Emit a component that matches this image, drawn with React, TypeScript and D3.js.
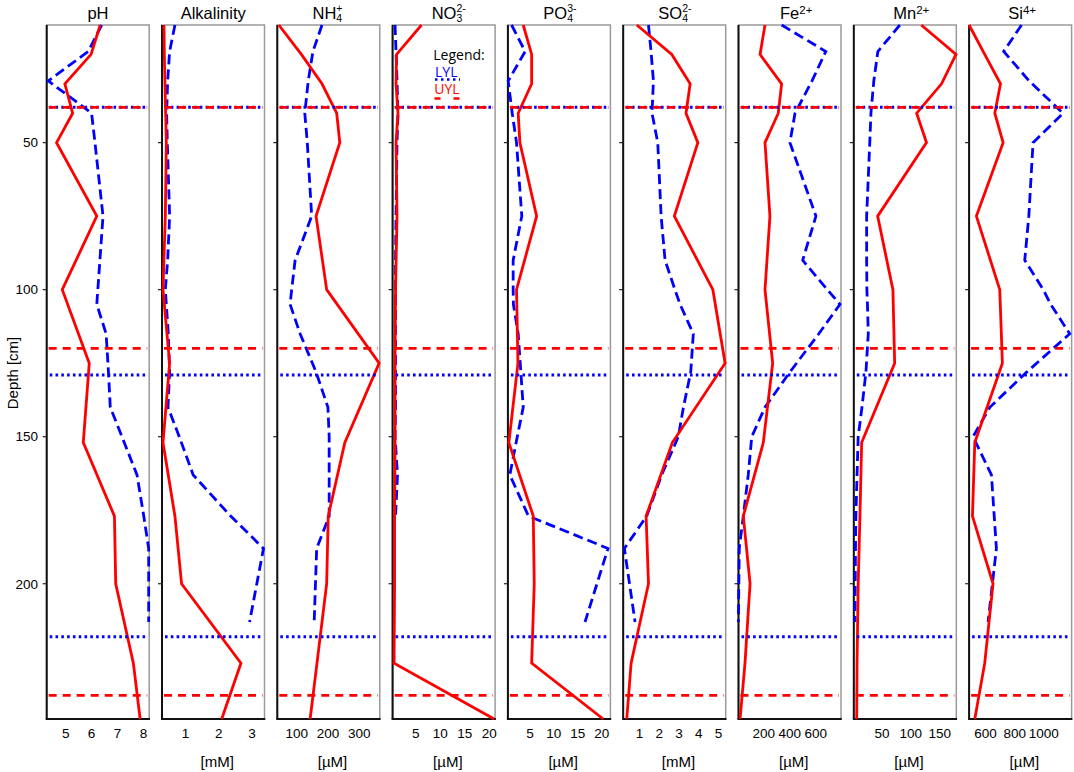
import React from "react";
import * as d3 from "d3";

// Sampling depths (cm)
const uylDepth = [10, 20, 30, 40, 50, 75, 100, 125, 152, 177, 200, 227, 246];
const lylDepth = [10, 19, 29, 40, 50, 75, 90, 100, 105, 115, 128, 140, 150, 163, 177, 188, 213];

// UYL (red, solid)
const uylPH = [6.33, 5.98, 4.97, 5.27, 4.65, 6.2, 4.87, 5.91, 5.68, 6.88, 6.93, 7.61, 7.87];
const uylAlk = [0.35, 0.36, 0.38, 0.4, 0.42, 0.39, 0.32, 0.52, 0.32, 0.68, 0.88, 2.67, 2.09];
const uylNH4 = [43, 115, 181, 228, 238, 162, 196, 364, 254, 201, 196, 165, 143];
const uylNO3 = [6.2, 1.1, 1.0, 1.4, 1.0, 1.2, 0.9, 0.8, 0.8, 0.7, 0.7, 0.6, 21.0];
const uylPO4 = [3.6, 5.36, 5.36, 2.55, 2.9, 6.4, 2.2, 2.5, 0.6, 5.7, 5.9, 5.36, 20.3];
const uylSO4 = [0.87, 2.64, 3.57, 3.36, 3.96, 2.77, 4.72, 5.34, 2.67, 1.34, 1.46, 0.58, 0.36];
const uylFe = [210, 172, 338, 312, 210, 248, 210, 269, 197, 43, 95, 56, 18];
const uylMn = [118, 178, 153, 110, 127, 42.6, 69, 72, 15, 12, 9, 7, 6.4];
const uylSi = [488, 595, 703, 664, 721, 538, 698, 716, 527, 511, 652, 595, 527];

// LYL (blue, dashed)
const lylPH = [6.39, 5.87, 4.33, 6.0, 6.13, 6.44, 6.32, 6.24, 6.2, 6.56, 6.65, 6.72, 7.17, 7.75, 8.01, 8.2, 8.2];
const lylAlk = [0.68, 0.52, 0.46, 0.43, 0.45, 0.52, 0.46, 0.39, 0.42, 0.48, 0.52, 0.47, 0.81, 1.23, 2.36, 3.35, 2.93];
const lylNH4 = [181, 152, 137, 126, 134, 148, 95, 84, 79, 111, 162, 200, 204, 204, 204, 164, 156];
const lylNO3 = [0.8, 1.0, 1.2, 1.4, 1.2, 1.0, 0.9, 0.9, 0.9, 0.9, 0.9, 0.9, 0.8, 1.3, 0.9, null, null];
const lylPO4 = [1.17, 4.0, 0.46, 1.3, 2.2, 3.3, 1.5, 1.5, 1.55, 2.55, 3.1, 3.6, 2.36, 0.8, 4.7, 21.3, 16.5];
const lylSO4 = [1.46, 1.59, 1.71, 1.64, 1.93, 2.1, 2.3, 2.8, 3.06, 3.73, 3.6, 3.23, 2.97, 2.13, 1.37, 0.24, 0.78];
const lylFe = [338, 678, 572, 441, 402, 602, 500, 690, 787, 624, 402, 210, 108, 81, 43, 12, 5];
const lylMn = [81, 43, 36, 31, 29, 23.6, 23.6, 24, 25, 26.4, 22.4, 15.5, 9, 7, 5, 4.3, 3.4];
const lylSi = [847, 725, 899, 1131, 926, 897, 869, 996, 1047, 1177, 883, 630, 515, 641, 660, 675, 618];

// Panel labels
const titleBase = ["pH", "Alkalinity", "NH", "NO", "PO", "SO", "Fe", "Mn", "Si"];
const titleSub = ["", "", "4", "3", "4", "4", "", "", ""];
const titleSup = ["", "", "+", "2-", "3-", "2-", "2+", "2+", "4+"];
const unitLabels = ["", "[mM]", "[µM]", "[µM]", "[µM]", "[mM]", "[µM]", "[µM]", "[µM]"];

const xDomains: [number, number][] = [
  [4.27, 8.22],
  [0.29, 3.38],
  [38, 366],
  [0.3, 21.2],
  [0.4, 21.8],
  [0.18, 5.37],
  [6, 795],
  [1.4, 178.5],
  [488, 1190],
];
const xTicks = [
  [5, 6, 7, 8],
  [1, 2, 3],
  [100, 200, 300],
  [5, 10, 15, 20],
  [5, 10, 15, 20],
  [1, 2, 3, 4, 5],
  [200, 400, 600],
  [50, 100, 150],
  [600, 800, 1000],
];

const uylBoundaries = [38, 120, 238];
const lylBoundaries = [38, 129, 218];
const depthDomain = [10, 246];
const depthTicks = [50, 100, 150, 200];

const uylSeries = [uylPH, uylAlk, uylNH4, uylNO3, uylPO4, uylSO4, uylFe, uylMn, uylSi];
const lylSeries = [lylPH, lylAlk, lylNH4, lylNO3, lylPO4, lylSO4, lylFe, lylMn, lylSi];

const RED = "#ff0000";
const BLUE = "#0000ff";
const FONT = "'Liberation Sans', Arial, Helvetica, sans-serif";

export default function App() {
  const W = 1074;
  const H = 772;
  const plotTop = 25;
  const plotBottom = 719;
  const firstLeft = 46.7;
  const step = 115.3;
  const panelW = 102.5;
  // x where the base part of a chemical title starts (null = centered)
  const titleStart: (number | null)[] = [null, null, 312.5, 431.7, 543.3, 658.3, 780, 893.3, 1008.3];

  const y = d3.scaleLinear().domain(depthDomain).range([plotTop, plotBottom]);

  return (
    <div style={{ position: "absolute", left: 0, top: 0 }}>
      <svg width={W} height={H} style={{ display: "block", background: "#fff" }} fontFamily={FONT}>
        {/* Depth axis label + ticks */}
        <text
          transform={`translate(17.5,373) rotate(-90)`}
          textAnchor="middle"
          fontSize={15}
          fill="#000"
        >
          Depth [cm]
        </text>
        {depthTicks.map((d) => (
          <text key={"dl" + d} x={38} y={y(d) + 4.8} textAnchor="end" fontSize={13.5} fill="#000">
            {d}
          </text>
        ))}

        {titleBase.map((name, i) => {
          const left = firstLeft + step * i;
          const right = left + panelW;
          const cx = left + panelW / 2;
          const x = d3.scaleLinear().domain(xDomains[i]).range([left, right]);
          const lineU = d3
            .line<number | null>()
            .defined((v) => v != null)
            .x((v) => x(v as number))
            .y((_, k) => y(uylDepth[k]));
          const lineL = d3
            .line<number | null>()
            .defined((v) => v != null)
            .x((v) => x(v as number))
            .y((_, k) => y(lylDepth[k]));
          const sup = titleSup[i];
          const sub = titleSub[i];
          const ts = titleStart[i];
          const supSize = sub ? 10.5 : 11.5;
          const supW = sup
            ? sup.split("").reduce((s, c) => s + (c === "+" ? 0.584 : c === "-" ? 0.333 : 0.556), 0) * supSize
            : 0;
          return (
            <g key={name}>
              {/* title */}
              {ts == null ? (
                <text x={cx} y={19} textAnchor="middle" fontSize={16.5} fill="#000">
                  {name}
                </text>
              ) : (
                <text x={ts} y={19} fontSize={16.5} fill="#000">
                  <tspan>{name}</tspan>
                  {sub ? (
                    <>
                      <tspan dy={-7} fontSize={supSize}>
                        {sup}
                      </tspan>
                      <tspan dx={-supW} dy={9.5} fontSize={supSize}>
                        {sub}
                      </tspan>
                    </>
                  ) : (
                    <tspan dy={-5.5} fontSize={supSize}>
                      {sup}
                    </tspan>
                  )}
                </text>
              )}

              {/* frame */}
              <rect
                x={left}
                y={plotTop}
                width={panelW}
                height={plotBottom - plotTop}
                fill="none"
                stroke="#9a9a9a"
                strokeWidth={1.5}
              />
              <line x1={left} x2={left} y1={plotTop} y2={plotBottom} stroke="#111" strokeWidth={2} />
              <line x1={left - 1} x2={right + 0.75} y1={plotBottom} y2={plotBottom} stroke="#111" strokeWidth={2} />

              {/* y ticks */}
              {depthTicks.map((d) => (
                <line key={"yt" + d} x1={left - 4} x2={left} y1={y(d)} y2={y(d)} stroke="#222" strokeWidth={1.2} />
              ))}

              {/* x tick labels */}
              {xTicks[i].map((t) => (
                <text key={"xt" + t} x={x(t)} y={738} textAnchor="middle" fontSize={13.5} fill="#000">
                  {t}
                </text>
              ))}
              {unitLabels[i] && (
                <text x={cx + 4} y={767} textAnchor="middle" fontSize={15} fill="#000">
                  {unitLabels[i]}
                </text>
              )}

              {/* data lines */}
              <path d={lineL(lylSeries[i] as (number | null)[]) || ""} fill="none" stroke={BLUE} strokeWidth={2.8} strokeDasharray="10,5" />
              <path d={lineU(uylSeries[i]) || ""} fill="none" stroke={RED} strokeWidth={2.8} strokeLinejoin="miter" />

              {/* boundaries */}
              {lylBoundaries.map((b) => (
                <line key={"lb" + b} x1={left + 3} x2={right - 3} y1={y(b)} y2={y(b)} stroke={BLUE} strokeWidth={3} strokeDasharray="2.6,3.2" />
              ))}
              {uylBoundaries.map((b) => (
                <line key={"ub" + b} x1={left + 2} x2={right - 2} y1={y(b)} y2={y(b)} stroke={RED} strokeWidth={2.8} strokeDasharray="8,6" />
              ))}
            </g>
          );
        })}

        {/* Legend in NO3 panel */}
        <g fontFamily="'Open Sans', 'Noto Sans', sans-serif">
          <text x={433.3} y={60} fontSize={14} fill="#000">
            Legend:
          </text>
          <text x={435} y={76.5} fontSize={14} fill={BLUE}>
            LYL
          </text>
          <line x1={435} x2={460} y1={79.5} y2={79.5} stroke={BLUE} strokeWidth={2.5} strokeDasharray="2.5,3.5" />
          <text x={434.3} y={94} fontSize={14} fill={RED}>
            UYL
          </text>
          <line x1={434.5} x2={460} y1={98.5} y2={98.5} stroke={RED} strokeWidth={2.5} strokeDasharray="6,13" />
        </g>
      </svg>
    </div>
  );
}
